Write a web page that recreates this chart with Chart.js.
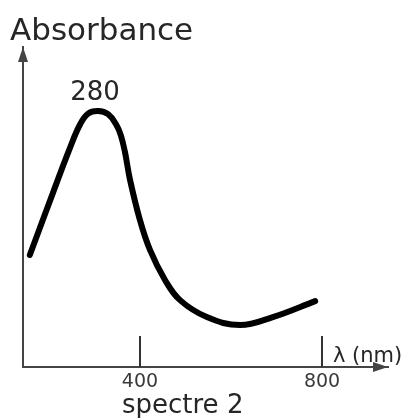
<!DOCTYPE html>
<html>
<head>
<meta charset="utf-8">
<script src="https://cdn.jsdelivr.net/npm/chart.js@4.4.0/dist/chart.umd.min.js"></script>
<style>
  html, body { margin: 0; padding: 0; background: #fff; }
  canvas { display: block; }
</style>
</head>
<body>
<canvas id="spectre" width="410" height="418"></canvas>
<script>
// spectre 2 - absorbance vs wavelength
const wavelengths = [158, 209, 246, 268, 286, 308, 330, 348, 358, 367, 378, 400, 422, 455, 488, 547, 620, 692, 785];
const absorbance = [0.35, 0.545, 0.684, 0.757, 0.792, 0.80, 0.79, 0.757, 0.724, 0.672, 0.586, 0.459, 0.366, 0.272, 0.209, 0.156, 0.131, 0.156, 0.206];
const xTicks = [400, 800];
const peakLabel = "280";

const FONT = "'DejaVu Sans', Verdana, sans-serif";
const TEXT = "#262626";
const AXIS = "#444";

const decorations = {
  id: "decorations",
  afterDraw(chart) {
    const { ctx, chartArea: area, scales: { x, y } } = chart;
    ctx.save();

    // arrow heads
    ctx.fillStyle = AXIS;
    ctx.beginPath();
    ctx.moveTo(area.left, area.top);
    ctx.lineTo(area.left - 5, area.top + 15);
    ctx.lineTo(area.left + 5, area.top + 15);
    ctx.closePath();
    ctx.fill();
    ctx.beginPath();
    ctx.moveTo(area.right, area.bottom);
    ctx.lineTo(area.right - 15, area.bottom - 5);
    ctx.lineTo(area.right - 15, area.bottom + 5);
    ctx.closePath();
    ctx.fill();

    // tick marks pointing up into the plot
    ctx.strokeStyle = "#333";
    ctx.lineWidth = 2;
    xTicks.forEach(v => {
      const px = Math.round(x.getPixelForValue(v));
      ctx.beginPath();
      ctx.moveTo(px, area.bottom);
      ctx.lineTo(px, area.bottom - 31);
      ctx.stroke();
    });

    ctx.fillStyle = TEXT;
    ctx.textBaseline = "alphabetic";

    ctx.font = "31px " + FONT;
    ctx.textAlign = "left";
    ctx.fillText("Absorbance", 10, 40);

    // peak label
    let iMax = 0;
    absorbance.forEach((v, i) => { if (v > absorbance[iMax]) iMax = i; });
    ctx.font = "26px " + FONT;
    ctx.textAlign = "center";
    ctx.fillText(peakLabel, x.getPixelForValue(wavelengths[iMax]) - 3, y.getPixelForValue(absorbance[iMax]) - 11);

    const last = x.getPixelForValue(xTicks[xTicks.length - 1]);
    ctx.font = "21px " + FONT;
    ctx.textAlign = "left";
    ctx.fillText("λ (nm)", last + 11, area.bottom - 5);

    ctx.font = "26px " + FONT;
    ctx.fillText("spectre 2", x.getPixelForValue(xTicks[0]) - 18, 413);

    ctx.restore();
  }
};

new Chart(document.getElementById("spectre"), {
  type: "line",
  data: {
    datasets: [{
      data: wavelengths.map((w, i) => ({ x: w, y: absorbance[i] })),
      borderColor: "#000",
      borderWidth: 6,
      borderCapStyle: "round",
      pointRadius: 0,
      tension: 0.4,
      fill: false
    }]
  },
  options: {
    responsive: false,
    animation: false,
    layout: { padding: { left: 23, right: 22, top: 47, bottom: 0 } },
    plugins: { legend: { display: false }, tooltip: { enabled: false } },
    scales: {
      x: {
        type: "linear",
        min: 143,
        max: 945,
        afterBuildTicks: s => { s.ticks = xTicks.map(v => ({ value: v })); },
        afterFit: s => { s.height = 51; },
        grid: { display: false, drawTicks: false },
        border: { color: AXIS, width: 2 },
        ticks: { font: { family: FONT, size: 19 }, color: "#3a3a3a", padding: 4, maxRotation: 0 }
      },
      y: {
        min: 0,
        max: 1,
        afterFit: s => { s.width = 0; },
        grid: { display: false, drawTicks: false },
        border: { color: AXIS, width: 2 },
        ticks: { display: false }
      }
    }
  },
  plugins: [decorations]
});
</script>
</body>
</html>
